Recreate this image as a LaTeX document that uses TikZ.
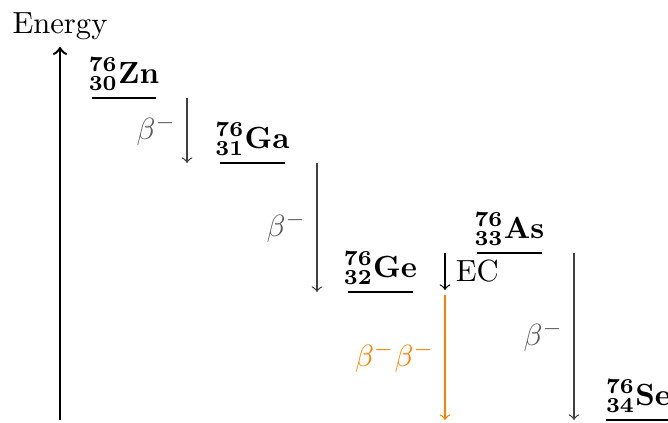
\documentclass[tikz,border=0pt]{standalone}
\begin{document}
\begin{tikzpicture}[x=0.3268pt,y=-0.3268pt,
  levelline/.style={thick},
  decay/.style={->,black!75},
  declab/.style={text=black!65},
  iso/.style={above,inner sep=2pt}]
\useasboundingbox (0,0) rectangle (668,423);
% energy axis
\coordinate (axb) at (60,420);
\coordinate (axt) at (60,47);
\draw[thick,->] (axb) -- (axt) node[above,inner sep=2pt] (energy) {Energy};
% levels
\draw[levelline] (92,98) coordinate (znL) -- (156,98) coordinate (znR)
  node[midway,iso] (zn) {$\mathbf{{}^{76}_{30}Zn}$};
\draw[levelline] (220,163) coordinate (gaL) -- (285,163) coordinate (gaR)
  node[midway,iso] (ga) {$\mathbf{{}^{76}_{31}Ga}$};
\draw[levelline] (348,292) coordinate (geL) -- (413,292) coordinate (geR)
  node[midway,iso] (ge) {$\mathbf{{}^{76}_{32}Ge}$};
\draw[levelline] (477,253) coordinate (asL) -- (542,253) coordinate (asR)
  node[midway,iso] (as) {$\mathbf{{}^{76}_{33}As}$};
\draw[levelline] (606,420) coordinate (seL) -- (671,420) coordinate (seR)
  node[midway,iso] (se) {$\mathbf{{}^{76}_{34}Se}$};
% decays
\coordinate (d1s) at (187,98);
\coordinate (d1e) at (187,163);
\draw[decay] (d1s) -- (d1e) node[midway,left,declab] (b1) {$\beta^-$};
\coordinate (d2s) at (317,163);
\coordinate (d2e) at (317,292);
\draw[decay] (d2s) -- (d2e) node[midway,left,declab] (b2) {$\beta^-$};
\coordinate (d3s) at (445,253);
\coordinate (d3e) at (445,290);
\draw[->,black] (d3s) -- (d3e) node[midway,right] (ec) {EC};
\coordinate (d4s) at (445,295);
\coordinate (d4e) at (445,420);
\draw[->,orange] (d4s) -- (d4e) node[midway,left,text=orange] (bb) {$\beta^-\beta^-$};
\coordinate (d5s) at (574,253);
\coordinate (d5e) at (574,420);
\draw[decay] (d5s) -- (d5e) node[midway,left,declab] (b5) {$\beta^-$};
\end{tikzpicture}
\end{document}
